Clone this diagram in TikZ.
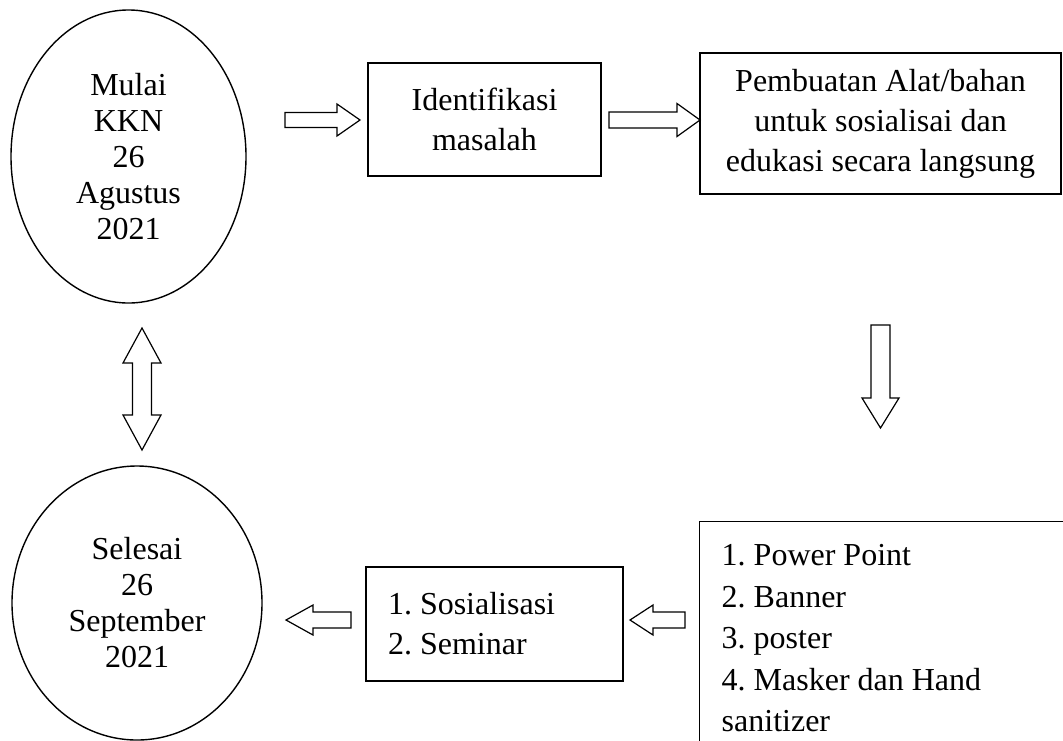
\documentclass[tikz,border=0pt]{standalone}
\usepackage{fontspec}
\setmainfont{Liberation Serif}
\usetikzlibrary{shapes}

\begin{document}
\begin{tikzpicture}[x=.5pt,y=-.5pt]
		\tikzstyle{oval}=[ellipse,draw,line width=.7pt,inner sep=0pt,align=flush center,font=\fontsize{16}{18}\selectfont\frenchspacing]
		\tikzstyle{kotak}=[rectangle,draw,line width=.7pt,inner sep=0pt,align=flush center,font=\fontsize{16}{20}\selectfont\frenchspacing]
		\tikzstyle{daftar}=[kotak,align=flush left,inner ysep=11.5pt,font=\fontsize{16}{20.75}\selectfont\frenchspacing]
		\tikzstyle{garis}=[line width=.6pt,line join=miter]
		% block arrows: length, head length, shaft width, head width
		\tikzset{
			pics/panah/.style n args={4}{code={
				\draw[garis] (0,{-#3/2}) -- ({#1-#2},{-#3/2}) -- ({#1-#2},{-#4/2}) -- (#1,0)
					-- ({#1-#2},{#4/2}) -- ({#1-#2},{#3/2}) -- (0,{#3/2}) -- cycle;}},
			pics/panahdua/.style n args={4}{code={
				\draw[garis] (0,0) -- (#2,{-#4/2}) -- (#2,{-#3/2}) -- ({#1-#2},{-#3/2}) -- ({#1-#2},{-#4/2}) -- (#1,0)
					-- ({#1-#2},{#4/2}) -- ({#1-#2},{#3/2}) -- (#2,{#3/2}) -- (#2,{#4/2}) -- cycle;}}
		}
		\useasboundingbox (0,0) rectangle (1063,740);
		\clip (0,0) rectangle (1063,740);
		
		\node [oval,minimum width=117.5pt,minimum height=146.5pt] (mulai) at (128.5,156.5) {Mulai\\KKN\\26\\Agustus\\2021};
		\node [kotak,minimum width=116.5pt,minimum height=56.5pt] (identifikasi) at (484.5,119.5) {Identifikasi\\masalah};
		\node [kotak,minimum width=180.5pt,minimum height=70.5pt] (pembuatan) at (880.5,123.5) {Pembuatan Alat/bahan\\untuk sosialisai dan\\edukasi secara langsung};
		\node [daftar,anchor=north west,text width=180pt,inner xsep=11pt,text depth=110pt] (media) at (699,521) {1. Power Point\\2. Banner\\3. poster\\4. Masker dan Hand\\sanitizer};
		\node [kotak,align=flush left,text width=106.5pt,inner xsep=11pt,minimum height=57pt] (kegiatan) at (494.5,624) {1. Sosialisasi\\2. Seminar};
		\node [oval,minimum width=125pt,minimum height=137pt] (selesai) at (137,603) {Selesai\\26\\September\\2021};
		
		\pic (p1) at (285,120) {panah={75}{23}{15}{32}};
		\pic (p2) at (609,120) {panah={91}{23}{16}{33}};
		\pic[rotate=-90] (p3) at (880.5,325) {panah={103}{30}{19}{37}};
		\pic[rotate=180] (p4) at (685,620) {panah={55}{23}{16}{30}};
		\pic[rotate=180] (p5) at (351,620) {panah={65}{27}{16}{30}};
		\pic[rotate=-90] (p6) at (142,328) {panahdua={122}{35}{19}{38}};
\end{tikzpicture}
\end{document}
